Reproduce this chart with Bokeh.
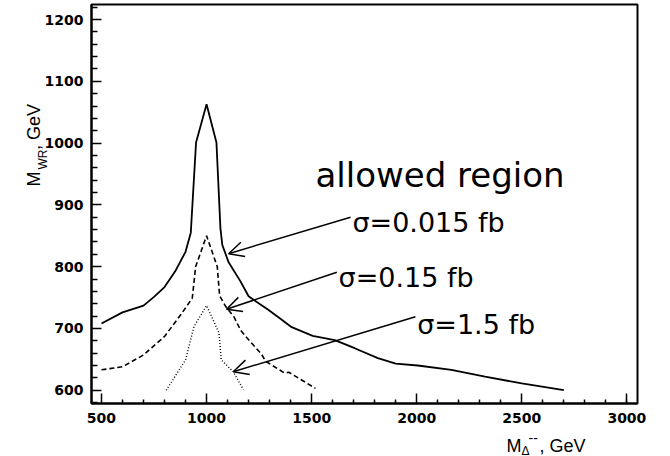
import math
from bokeh.plotting import figure
from bokeh.models import Range1d, FixedTicker, Arrow, OpenHead, Label
from bokeh.embed import file_html
from bokeh.resources import INLINE

# ---- data ----
# sigma = 0.015 fb (solid)
solid_x = [500, 600, 700, 750, 800, 850, 900, 925, 950, 1000, 1047, 1066, 1075, 1105, 1160,
           1200, 1225, 1290, 1350, 1405, 1505, 1610, 1705, 1815, 1900, 2005, 2165, 2325, 2500, 2700]
solid_y = [708, 726, 737, 751, 767, 792, 824, 855, 1001, 1063, 1001, 862, 835, 807, 777,
           752, 746, 731, 716, 702, 688, 681, 668, 652, 643, 640, 633, 622, 611, 600]

# sigma = 0.15 fb (dashed)
dash_x = [500, 600, 700, 800, 877, 932, 948, 1000, 1051, 1062, 1092, 1130, 1162, 1194, 1260, 1281, 1370, 1392, 1518]
dash_y = [633, 638, 657, 687, 722, 749, 800, 850, 800, 753, 735, 719, 697, 684, 659, 647, 628, 629, 603]

# sigma = 1.5 fb (dotted)
dot_x = [808, 900, 940, 1000, 1059, 1070, 1127, 1175]
dot_y = [600, 649, 703, 737, 693, 649, 630, 601]

# annotations: label text, label anchor (left, baseline), arrow tail, arrow tip
sigma_labels = ["σ=0.015 fb", "σ=0.15 fb", "σ=1.5 fb"]
label_x = [1694, 1628, 2002]
label_y = [872, 783, 707]
arrow_tail_x = [1685, 1620, 1994]
arrow_tail_y = [880, 791, 719]
arrow_tip_x = [1105, 1095, 1127]
arrow_tip_y = [821, 731, 630]
region_text = "allowed region"
region_x, region_y = 1518, 949

x_major = [500, 1000, 1500, 2000, 2500, 3000]
x_minor = [600, 700, 800, 900, 1100, 1200, 1300, 1400, 1600, 1700, 1800, 1900,
           2100, 2200, 2300, 2400, 2600, 2700, 2800, 2900, 3000]
y_major = [600, 700, 800, 900, 1000, 1100, 1200]
y_minor = [580, 620, 640, 660, 680, 720, 740, 760, 780, 820, 840, 860, 880, 920, 940, 960, 980,
           1020, 1040, 1060, 1080, 1120, 1140, 1160, 1180, 1220]

# ---- layout ----
W, H = 670, 456
FL, FR, FT, FB = 91, 637, 4, 403
X0, X1 = 452.5, 3050.5
Y0, Y1 = 578.5, 1224.3


def dx(px):
    return X0 + (px - FL) * (X1 - X0) / (FR - FL)


def dy(py):
    return Y1 - (py - FT) * (Y1 - Y0) / (FB - FT)


p = figure(width=W, height=H, x_range=Range1d(X0, X1), y_range=Range1d(Y0, Y1),
           output_backend="svg", toolbar_location=None,
           min_border_left=FL, min_border_right=W - FR,
           min_border_top=FT, min_border_bottom=H - FB)
p.background_fill_color = "white"
p.border_fill_color = "white"
p.outline_line_color = "black"
p.outline_line_width = 2
p.xgrid.visible = False
p.ygrid.visible = False

p.xaxis.ticker = FixedTicker(ticks=x_major, minor_ticks=x_minor)
p.yaxis.ticker = FixedTicker(ticks=y_major, minor_ticks=y_minor)
for ax in (p.xaxis, p.yaxis):
    ax.axis_line_width = 2
    ax.axis_line_color = "black"
    ax.major_tick_line_color = "black"
    ax.minor_tick_line_color = "black"
    ax.major_tick_line_width = 1.5
    ax.minor_tick_line_width = 1.5
    ax.major_tick_in = 10
    ax.major_tick_out = 0
    ax.minor_tick_out = 0
    ax.major_label_text_font = "DejaVu Sans"
    ax.major_label_text_font_size = "14px"
    ax.major_label_text_font_style = "bold"
    ax.major_label_text_color = "black"
p.xaxis.minor_tick_in = 4
p.yaxis.minor_tick_in = 6
p.xaxis.major_label_standoff = 9
p.yaxis.major_label_standoff = 8

p.line(solid_x, solid_y, line_color="black", line_width=1.8)
p.line(dash_x, dash_y, line_color="black", line_width=1.6, line_dash="5 3")
p.line(dot_x, dot_y, line_color="black", line_width=1.4, line_dash="1 2")

for i in range(3):
    p.add_layout(Arrow(end=OpenHead(size=15, line_width=1.5, line_color="black"),
                       x_start=arrow_tail_x[i], y_start=arrow_tail_y[i],
                       x_end=arrow_tip_x[i], y_end=arrow_tip_y[i],
                       line_color="black", line_width=1.5))
    p.add_layout(Label(x=label_x[i], y=label_y[i], text=sigma_labels[i],
                       text_font="DejaVu Sans", text_font_size="27px",
                       text_align="left", text_baseline="alphabetic", text_color="black"))

p.add_layout(Label(x=region_x, y=region_y, text=region_text, text_font="DejaVu Sans",
                   text_font_size="34px", text_align="left", text_baseline="alphabetic",
                   text_color="black"))

# axis titles: main text + subscript/superscript pieces, placed in side panels
# (positions in data units, so they sit where the reference shows them and are not
# clipped to the frame); spread over the panels that still have free room
AF = "Liberation Sans"
SP = "\u2002\u2002"  # room left for the sub/superscripts
titles = [
    # text, px, py, font size, angle, panel
    ("M" + SP + ", GeV", 506, 445, "18px", 0.0, "below"),
    ("Δ", 521, 450, "12px", 0.0, "right"),
    ("--", 528, 437, "14px", 0.0, "right"),
    ("M" + SP + "\u2009, GeV", 33, 186, "18px", math.pi / 2, "left"),
    ("WR", 42, 169, "12px", math.pi / 2, "left"),
]
for t, px, py, fs, ang, side in titles:
    p.add_layout(Label(x=dx(px), y=dy(py), text=t, text_font=AF, text_font_size=fs,
                       angle=ang, text_align="left", text_baseline="alphabetic",
                       text_color="black"), side)

open("out.html", "w").write(file_html(p, INLINE))
